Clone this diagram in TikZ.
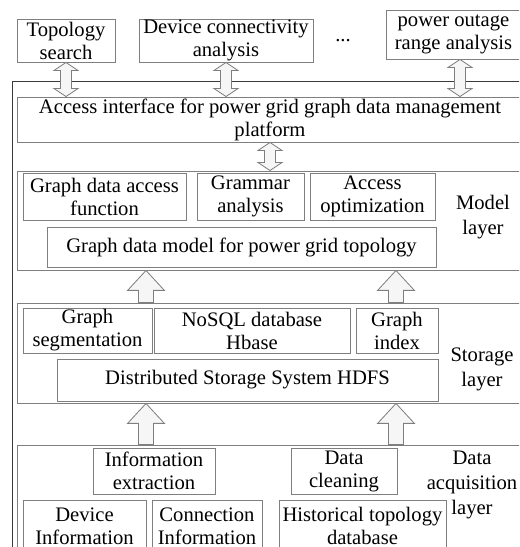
\documentclass[tikz,border=0pt]{standalone}
\usepackage{fontspec}
\setmainfont{Liberation Serif}
\usetikzlibrary{calc}

\definecolor{boxgray}{HTML}{7F7F7F}
\definecolor{framegray}{HTML}{3A3A3A}
\definecolor{arrowfill}{HTML}{F6F6F6}

\tikzset{
  dims/.style args={#1x#2}{minimum width=#1*0.03cm, minimum height=#2*0.03cm},
  box/.style={draw=boxgray, line width=0.8pt, inner sep=0pt, align=center},
  layerbox/.style={box},
  lbl/.style={align=center, font=\fontsize{17.6}{21.3}\selectfont},
  % block arrow pointing up, from start (below) to target (above)
  blockup/.style={draw=boxgray, fill=arrowfill, line width=0.7pt,
    to path={let \p1=(\tikztostart), \p2=(\tikztotarget) in
      (\x1-6.4pt,\y1) -- (\x1-6.4pt,\y2-17pt) -- (\x1-15.7pt,\y2-17pt) -- (\x1,\y2)
      -- (\x1+15.7pt,\y2-17pt) -- (\x1+6.4pt,\y2-17pt) -- (\x1+6.4pt,\y1) -- cycle}},
  % double headed block arrow, vertical
  blockboth/.style={draw=boxgray, fill=arrowfill, line width=0.7pt,
    to path={let \p1=(\tikztostart), \p2=(\tikztotarget) in
      (\x1,\y1) -- (\x1-10.2pt,\y1-6.8pt) -- (\x1-4.7pt,\y1-6.8pt) -- (\x1-4.7pt,\y2+6.8pt)
      -- (\x1-10.2pt,\y2+6.8pt) -- (\x1,\y2) -- (\x1+10.2pt,\y2+6.8pt) -- (\x1+4.7pt,\y2+6.8pt)
      -- (\x1+4.7pt,\y1-6.8pt) -- (\x1+10.2pt,\y1-6.8pt) -- cycle}}
}

\begin{document}
\begin{tikzpicture}[x=0.03cm, y=-0.03cm, font=\fontsize{17.6}{19.6}\selectfont]
\useasboundingbox (0,0) rectangle (519,547);
\clip (0,0) rectangle (519,547);

% applications
\node[box, dims=98x43] (topo) at (66,40.5) {Topology\\search};
\node[box, dims=174x43] (devconn) at (226,40.5) {Device connectivity\\analysis};
\node (dots) at (343,41) {...};
\node[box, dims=135x49] (outage) at (453.5,34.5) {power outage\\range analysis};

% outer frame
\draw[framegray, line width=0.8pt] (12,560) -- (12,81) -- (530,81);

\node[box, dims=506x45] (access) at (270,119.5) {Access interface for power grid graph data management\\platform};

% model layer
\node[layerbox, dims=506x99] (model) at (270,220.5) {};
\node[box, dims=163x47] (gaccess) at (104.5,196.5) {Graph data access\\function};
\node[box, dims=107x47] (grammar) at (250.5,196.5) {Grammar\\analysis};
\node[box, dims=125x47] (accopt) at (372.5,196.5) {Access\\optimization};
\node[box, dims=389x40] (gmodel) at (241.5,247) {Graph data model for power grid topology};
\node[lbl] (modellbl) at (483,217.5) {Model\\layer};

% storage layer
\node[layerbox, dims=506x100] (storage) at (270,353) {};
\node[box, dims=129x45] (gseg) at (87.5,330.5) {Graph\\segmentation};
\node[box, dims=196x45] (nosql) at (252,330.5) {NoSQL database\\Hbase};
\node[box, dims=82x45] (gindex) at (397,330.5) {Graph\\index};
\node[box, dims=381x42] (hdfs) at (247.5,380) {Distributed Storage System HDFS};
\node[lbl] (storlbl) at (482,369) {Storage\\layer};

% data acquisition layer
\node[layerbox, dims=506x115] (acq) at (270,502.5) {};
\node[box, dims=122x46] (infoext) at (154,471) {Information\\extraction};
\node[box, dims=106x46] (clean) at (344,471) {Data\\cleaning};
\node[box, dims=123x52] (devinfo) at (84.5,526) {Device\\Information};
\node[box, dims=110x52] (conninfo) at (207,526) {Connection\\Information};
\node[box, dims=167x52] (histdb) at (362.5,526) {Historical topology\\database};
\node[lbl] (acqlbl) at (472,485) {Data\\acquisition\\layer};

% arrows
\coordinate (ax1) at (146,0);
\coordinate (ax2) at (396,0);
\coordinate (ax3) at (460,0);
\draw[blockboth] (topo.south) to (access.north -| topo.south);
\draw[blockboth] (devconn.south) to (access.north -| devconn.south);
\draw[blockboth] (outage.south -| ax3) to (access.north -| ax3);
\draw[blockboth] (access.south) to (model.north);
\draw[blockup] (storage.north -| ax1) to (model.south -| ax1);
\draw[blockup] (storage.north -| ax2) to (model.south -| ax2);
\draw[blockup] (acq.north -| ax1) to (storage.south -| ax1);
\draw[blockup] (acq.north -| ax2) to (storage.south -| ax2);
\end{tikzpicture}
\end{document}
